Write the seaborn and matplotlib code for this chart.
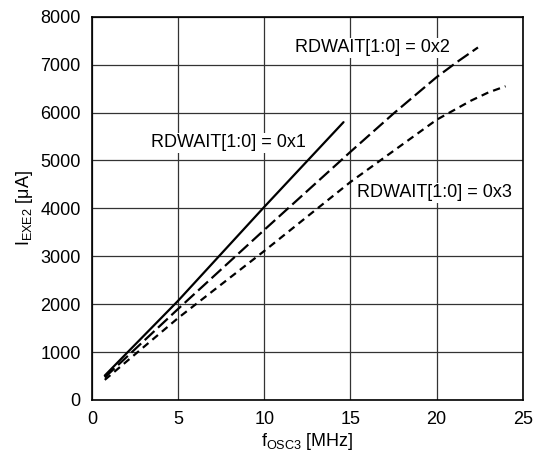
import pandas as pd
import seaborn as sns
import matplotlib.pyplot as plt

# values
freq_0x1 = [0.75, 5, 10, 14.6]
curr_0x1 = [510, 2070, 4030, 5800]

freq_0x2 = [0.75, 5, 10, 15, 17.5, 20, 21.2, 22.4]
curr_0x2 = [470, 1900, 3550, 5180, 5980, 6740, 7060, 7360]

freq_0x3 = [0.75, 5, 10, 15, 20, 22, 23, 24]
curr_0x3 = [420, 1710, 3110, 4550, 5850, 6250, 6420, 6550]

settings = ["RDWAIT[1:0] = 0x1", "RDWAIT[1:0] = 0x2", "RDWAIT[1:0] = 0x3"]

df = pd.concat([
    pd.DataFrame({"f": freq_0x1, "i": curr_0x1, "mode": settings[0]}),
    pd.DataFrame({"f": freq_0x2, "i": curr_0x2, "mode": settings[1]}),
    pd.DataFrame({"f": freq_0x3, "i": curr_0x3, "mode": settings[2]}),
])

sns.set_theme(style="whitegrid")
plt.rcParams['font.family'] = ['Liberation Sans', 'DejaVu Sans']
plt.rcParams['mathtext.fontset'] = 'custom'
plt.rcParams['mathtext.rm'] = 'Liberation Sans'

fig, ax = plt.subplots(figsize=(5.34, 4.54), dpi=100)
fig.subplots_adjust(left=0.172, right=0.979, bottom=0.119, top=0.963)

sns.lineplot(data=df, x="f", y="i", style="mode", color="black", linewidth=1.6,
             dashes={settings[0]: "", settings[1]: (6, 2.2), settings[2]: (3.3, 2.3)},
             legend=False, ax=ax, sort=False)

ax.set_xlim(0, 25)
ax.set_ylim(0, 8000)
ax.set_xticks([0, 5, 10, 15, 20, 25])
ax.set_yticks(range(0, 8001, 1000))
ax.tick_params(length=0, labelsize=13, colors="black", pad=8)
ax.grid(True, color="#333333", linewidth=0.9)
for s in ax.spines.values():
    s.set_color("black")
    s.set_linewidth(1.2)

ax.set_xlabel(r"f$_\mathregular{OSC3}$ [MHz]", fontsize=13, labelpad=2, color="black")
ax.set_ylabel(r"I$_\mathregular{EXE2}$ [μA]", fontsize=13, labelpad=4, color="black")

box = dict(facecolor="white", edgecolor="none", pad=1)
ax.text(7.9, 5370, settings[0], fontsize=13, ha="center", va="center", bbox=box, color="black")
ax.text(16.3, 7350, settings[1], fontsize=13, ha="center", va="center", bbox=box, color="black")
ax.text(19.9, 4330, settings[2], fontsize=13, ha="center", va="center", bbox=box, color="black")

fig.savefig("out.png", dpi=100)
